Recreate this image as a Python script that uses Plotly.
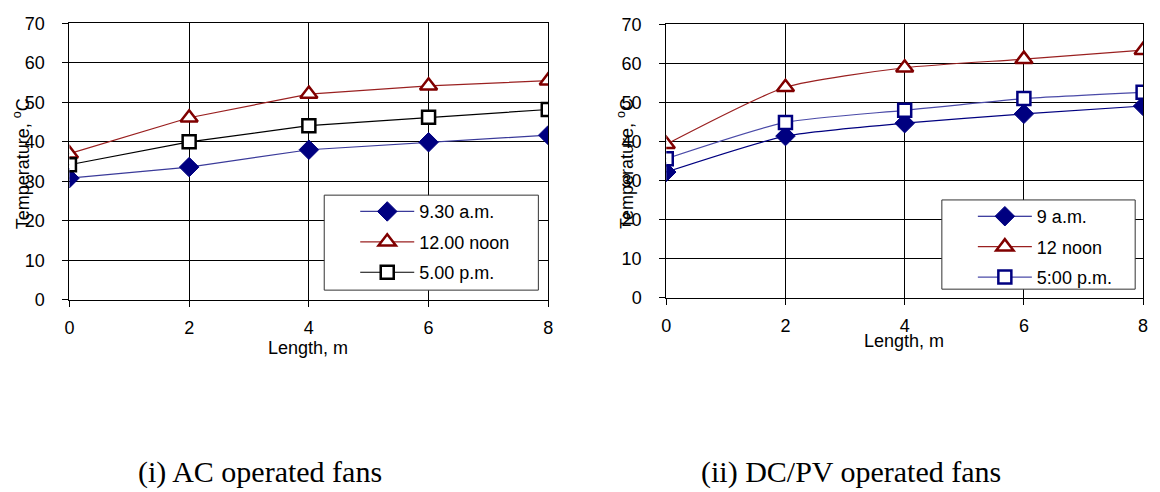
import plotly.graph_objects as go

length = [0, 2, 4, 6, 8]

# (i) AC operated fans
ac_labels = ["9.30 a.m.", "12.00 noon", "5.00 p.m."]
ac_morning = [30.8, 33.6, 38.0, 39.9, 41.7]
ac_noon = [37.0, 46.1, 52.1, 54.2, 55.5]
ac_evening = [34.2, 40.0, 44.1, 46.2, 48.2]

# (ii) DC/PV operated fans
dc_labels = ["9 a.m.", "12 noon", "5:00 p.m."]
dc_morning = [32.2, 41.4, 44.7, 47.1, 49.1]
dc_noon = [39.3, 53.9, 58.9, 61.1, 63.4]
dc_evening = [35.6, 44.9, 48.0, 51.0, 52.6]

y_ticks = [0, 10, 20, 30, 40, 50, 60, 70]
x_ticks = [0, 2, 4, 6, 8]

NAVY = "#000080"
DRED = "#800000"

fig = go.Figure()

def add(x, y, name, xa, ya, legend, color, linecolor, symbol, size, group, filled, shape="linear"):
    fig.add_trace(go.Scatter(
        x=x, y=y, name=name, xaxis=xa, yaxis=ya, legend=legend,
        legendgroup=group,
        mode="lines+markers",
        line=dict(color=linecolor, width=1.2, shape=shape, smoothing=0.6),
        marker=dict(symbol=symbol, size=size, color=color if filled else "white",
                    line=dict(color=color, width=1 if filled else 2.5)),
    ))

add(length, ac_morning, ac_labels[0], "x", "y", "legend", NAVY, "#3a3a9a", "diamond", 15, "a1", True)
add(length, ac_noon, ac_labels[1], "x", "y", "legend", DRED, "#9a2020", "triangle-up", 15, "a2", False)
add(length, ac_evening, ac_labels[2], "x", "y", "legend", "#000000", "#000000", "square", 13, "a3", False)

add(length, dc_morning, dc_labels[0], "x2", "y2", "legend2", NAVY, NAVY, "diamond", 15, "b1", True, "spline")
add(length, dc_noon, dc_labels[1], "x2", "y2", "legend2", DRED, "#9a2020", "triangle-up", 15, "b2", False, "spline")
add(length, dc_evening, dc_labels[2], "x2", "y2", "legend2", NAVY, "#4a4aa8", "square", 13, "b3", False, "spline")

W, H = 1160, 492
def fx(px): return px / W
def fy(py): return 1 - py / H

axis_font = dict(family="Liberation Sans, Arial", size=18, color="black")

xcommon = dict(range=[0, 8], tickvals=x_ticks, ticks="outside", ticklen=6, tickcolor="black",
               showgrid=True, gridcolor="black", gridwidth=1, showline=True, linecolor="black",
               mirror=True, zeroline=False, tickfont=axis_font, ticklabelstandoff=6)
ycommon = dict(range=[0, 70], tickvals=y_ticks, ticks="outside", ticklen=6, tickcolor="black",
               showgrid=True, gridcolor="black", gridwidth=1, showline=True, linecolor="black",
               mirror=True, zeroline=False, tickfont=axis_font, ticklabelstandoff=14)

leg_common = dict(bgcolor="rgba(0,0,0,0)", borderwidth=0,
                  font=dict(family="Liberation Sans, Arial", size=18, color="black"),
                  tracegroupgap=4, traceorder="grouped", itemwidth=54, indentation=31)

fig.update_layout(
    width=W, height=H, margin=dict(l=0, r=0, t=0, b=0),
    paper_bgcolor="white", plot_bgcolor="white",
    xaxis=dict(domain=[fx(65), fx(548)], anchor="y", **xcommon),
    yaxis=dict(domain=[fy(302), fy(14)], anchor="x", **ycommon),
    xaxis2=dict(domain=[fx(667), fx(1148)], anchor="y2", **xcommon),
    yaxis2=dict(domain=[fy(300), fy(15)], anchor="x2", **ycommon),
    legend=dict(x=fx(322), y=fy(191), xanchor="left", yanchor="top", **leg_common),
    legend2=dict(x=fx(945), y=fy(196), xanchor="left", yanchor="top", **leg_common),
    showlegend=True,
    shapes=[
        dict(type="rect", xref="paper", yref="paper", x0=fx(322), x1=fx(538), y0=fy(292), y1=fy(193),
             fillcolor="white", line=dict(color="#333333", width=1), layer="above"),
        dict(type="rect", xref="paper", yref="paper", x0=fx(945), x1=fx(1140), y0=fy(291), y1=fy(198),
             fillcolor="white", line=dict(color="#333333", width=1), layer="above"),
    ],
)

ann_font = dict(family="Liberation Sans, Arial", size=18, color="black")
cap_font = dict(family="Liberation Serif, Times New Roman", size=30, color="black")
annotations = [
    dict(text="Length, m", x=fx(306), y=fy(352), xref="paper", yref="paper", showarrow=False,
         xanchor="center", yanchor="middle", font=ann_font),
    dict(text="Length, m", x=fx(907), y=fy(345), xref="paper", yref="paper", showarrow=False,
         xanchor="center", yanchor="middle", font=ann_font),
    dict(text="Temperature, <sup>o</sup>C", x=fx(17), y=fy(160), xref="paper", yref="paper",
         showarrow=False, textangle=-90, xanchor="center", yanchor="middle", font=ann_font),
    dict(text="Temperature, <sup>o</sup>C", x=fx(626), y=fy(160), xref="paper", yref="paper",
         showarrow=False, textangle=-90, xanchor="center", yanchor="middle", font=ann_font),
    dict(text="(i) AC operated fans", x=fx(257), y=fy(482), xref="paper", yref="paper",
         showarrow=False, xanchor="center", yanchor="middle", font=cap_font),
    dict(text="(ii) DC/PV operated fans", x=fx(853), y=fy(482), xref="paper", yref="paper",
         showarrow=False, xanchor="center", yanchor="middle", font=cap_font),
]
fig.update_layout(annotations=annotations)

fig.write_html("out.html")
